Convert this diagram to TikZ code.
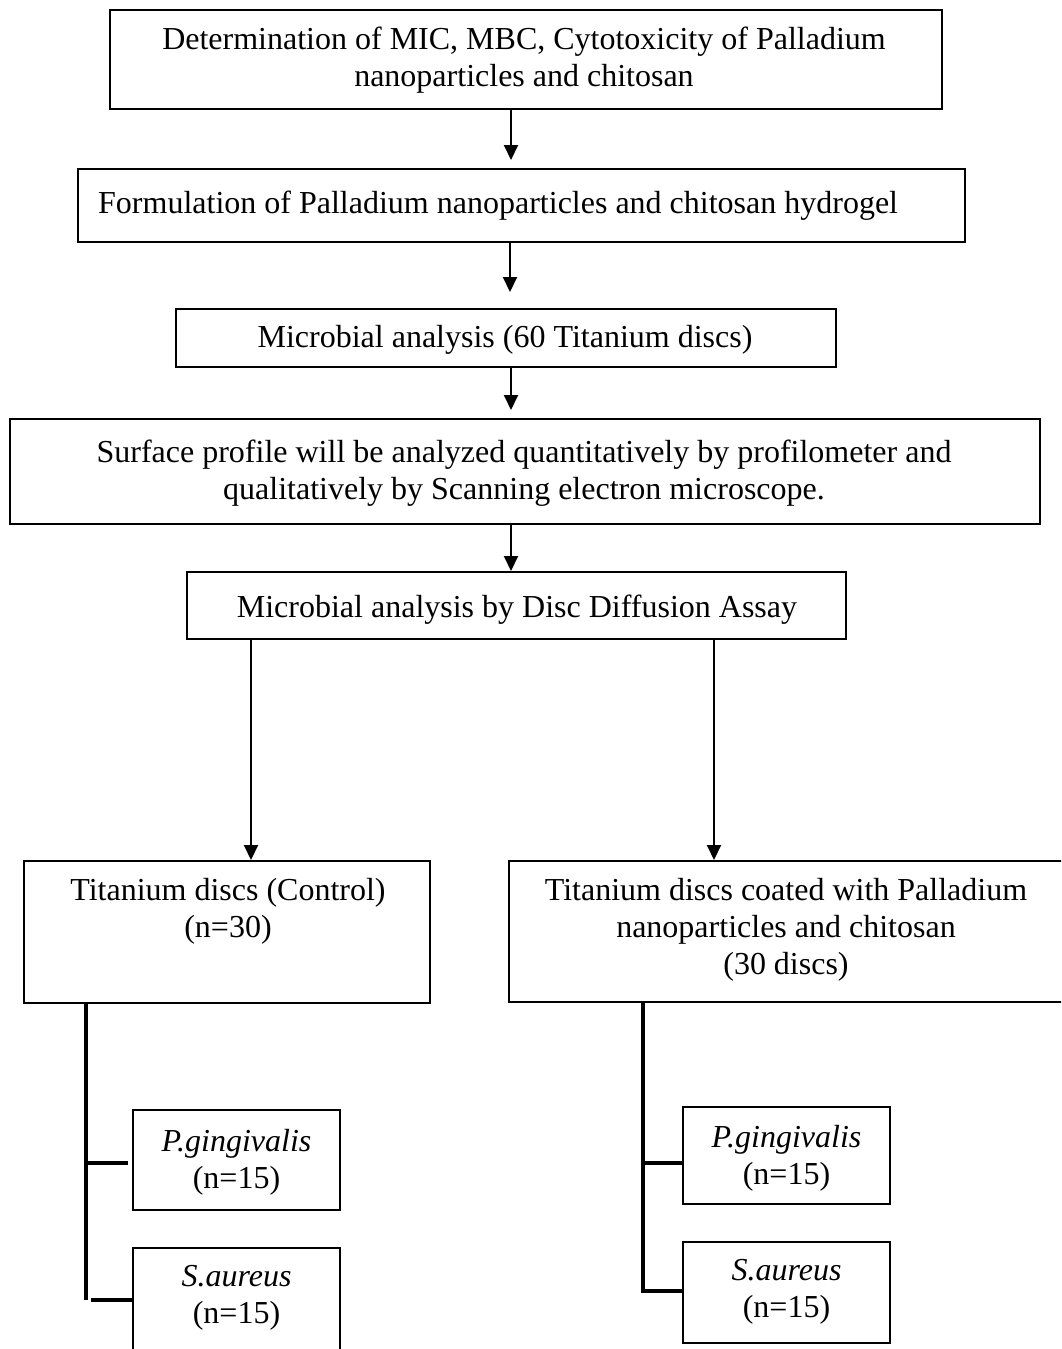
\documentclass[tikz,border=0pt]{standalone}
\usepackage{fontspec}
\setmainfont{Liberation Serif}
\usetikzlibrary{arrows.meta}
\begin{document}
\begin{tikzpicture}[x=1pt,y=-1pt,
  box/.style={draw, line width=2pt, inner sep=0pt},
  lbl/.style={font=\fontsize{32}{37}\selectfont, align=center, inner sep=0pt},
  arr/.style={line width=2pt, -{Triangle[width=14pt,length=15pt]}},
  tree/.style={line width=3.5pt}]
\clip (0,0) rectangle (1061,1349);
\fill[white] (0,0) rectangle (1061,1349);

% boxes
\node[box, minimum width=832pt, minimum height=99pt] (b1) at (526,59.5) {};
\node[box, minimum width=887pt, minimum height=73pt] (b2) at (521.5,205.5) {};
\node[box, minimum width=660pt, minimum height=58pt] (b3) at (506,338) {};
\node[box, minimum width=1030pt, minimum height=105pt] (b4) at (525,471.5) {};
\node[box, minimum width=659pt, minimum height=67pt] (b5) at (516.5,605.5) {};
\node[box, minimum width=406pt, minimum height=142pt] (b6) at (227,932) {};
\node[box, minimum width=554pt, minimum height=141pt] (b7) at (786,931.5) {};
\node[box, minimum width=207pt, minimum height=100pt] (b8) at (236.5,1160) {};
\node[box, minimum width=207pt, minimum height=114pt] (b9) at (236.5,1305) {};
\node[box, minimum width=207pt, minimum height=97pt] (b10) at (786.5,1155.5) {};
\node[box, minimum width=207pt, minimum height=101pt] (b11) at (786.5,1292.5) {};

% texts
\node[lbl] (t1) at (524,60) {Determination of MIC, MBC, Cytotoxicity of Palladium\\nanoparticles and chitosan};
\node[lbl, anchor=west] (t2) at (98,206) {Formulation of Palladium nanoparticles and chitosan hydrogel};
\node[lbl] (t3) at (505,340) {Microbial analysis (60 Titanium discs)};
\node[lbl] (t4) at (524,473.5) {Surface profile will be analyzed quantitatively by profilometer and\\qualitatively by Scanning electron microscope.};
\node[lbl] (t5) at (517,610) {Microbial analysis by Disc Diffusion Assay};
\node[lbl] (t6) at (228,911.5) {Titanium discs (Control)\\(n=30)};
\node[lbl] (t7) at (786,930) {Titanium discs coated with Palladium\\nanoparticles and chitosan\\(30 discs)};
\node[lbl] (t8) at (236.5,1162.5) {\textit{P.gingivalis}\\(n=15)};
\node[lbl] (t9) at (236.5,1297.5) {\textit{S.aureus}\\(n=15)};
\node[lbl] (t10) at (786.5,1158.5) {\textit{P.gingivalis}\\(n=15)};
\node[lbl] (t11) at (786.5,1291.5) {\textit{S.aureus}\\(n=15)};

% arrows
\coordinate (a1) at (511,160);
\coordinate (a2) at (510,292);
\coordinate (a3) at (511,410);
\coordinate (xa) at (511,0);
\coordinate (xl) at (251,0);
\coordinate (xr) at (714,0);
\draw[arr] (b1.south -| a1) -- (a1);
\draw[arr] (b2.south -| a2) -- (a2);
\draw[arr] (b3.south -| a3) -- (a3);
\draw[arr] (b4.south -| xa) -- (b5.north -| xa);
\draw[arr] (b5.south -| xl) -- (b6.north -| xl);
\draw[arr] (b5.south -| xr) -- (b7.north -| xr);

% left tree
\coordinate (lx) at (86,0);
\coordinate (lend) at (86,1300);
\coordinate (lb1s) at (86,1163);
\coordinate (lb1e) at (128,1163);
\coordinate (lb2s) at (91,1300);
\coordinate (lb2e) at (133,1300);
\draw[tree] (b6.south -| lx) -- (lend);
\draw[tree] (lb1s) -- (lb1e);
\draw[tree] (lb2s) -- (lb2e);

% right tree
\coordinate (rx) at (643,0);
\coordinate (rb1s) at (643,1163);
\coordinate (rb1e) at (683,1163);
\coordinate (rb2e) at (683,1291);
\draw[tree] (b7.south -| rx) |- (rb2e);
\draw[tree] (rb1s) -- (rb1e);
\end{tikzpicture}
\end{document}
